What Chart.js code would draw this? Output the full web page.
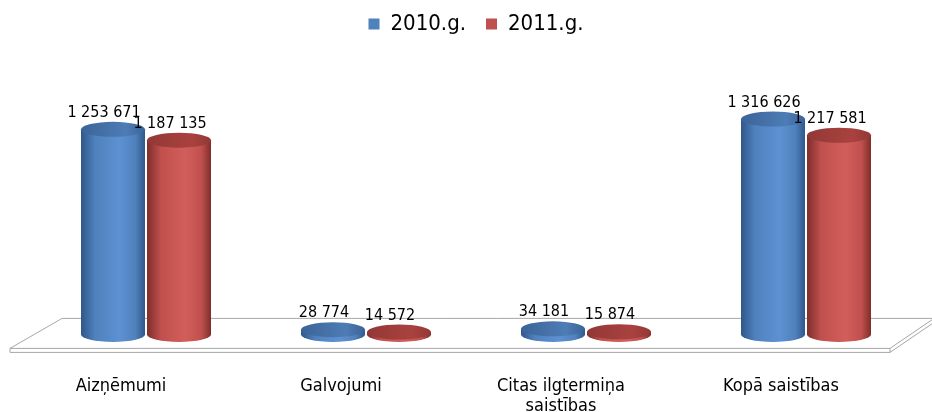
<!DOCTYPE html>
<html>
<head>
<meta charset="utf-8">
<script src="https://cdn.jsdelivr.net/npm/chart.js@4/dist/chart.umd.min.js"></script>
<style>
  html, body { margin: 0; padding: 0; background: #fff; }
  #wrap { width: 932px; height: 412px; }
</style>
</head>
<body>
<div id="wrap"><canvas id="c" width="932" height="412"></canvas></div>
<script>
  const categories = ["Aizņēmumi", "Galvojumi", ["Citas ilgtermiņa", "saistības"], "Kopā saistības"];
  const seriesNames = ["2010.g.", "2011.g."];
  const values2010 = [1253671, 28774, 34181, 1316626];
  const values2011 = [1187135, 14572, 15874, 1217581];

  const FONT = "'Liberation Sans Narrow', 'DejaVu Sans Condensed', 'Liberation Sans', sans-serif";

  const palette = [
    { base: "#4f81bd", dark: "#30578a", light: "#5e91d2", top: "#3b6498", topLight: "#4e7cb5" },
    { base: "#c0504d", dark: "#7e2e2c", light: "#d25e5b", top: "#923836", topLight: "#a9423f" }
  ];

  function fmt(v) {
    return String(v).replace(/\B(?=(\d{3})+(?!\d))/g, " ");
  }

  // floor drawn under the bars
  const floorPlugin = {
    id: "floor",
    beforeDatasetsDraw(chart) {
      const ctx = chart.ctx;
      const b = chart.chartArea.bottom;
      const W = chart.width;
      ctx.save();
      ctx.strokeStyle = "#a6a6a6";
      ctx.lineWidth = 1;
      ctx.fillStyle = "#ffffff";
      ctx.beginPath();
      ctx.moveTo(62, b - 16);
      ctx.lineTo(W + 2, b - 16);
      ctx.lineTo(W - 42, b + 14);
      ctx.lineTo(10, b + 14);
      ctx.closePath();
      ctx.fill();
      ctx.stroke();
      ctx.beginPath();
      ctx.moveTo(10, b + 14);
      ctx.lineTo(10, b + 18);
      ctx.lineTo(W - 42, b + 18);
      ctx.lineTo(W - 42, b + 14);
      ctx.stroke();
      ctx.beginPath();
      ctx.moveTo(W - 42, b + 18);
      ctx.lineTo(W + 2, b - 12);
      ctx.stroke();
      ctx.restore();
    }
  };

  // cylinders + value labels
  const cylPlugin = {
    id: "cyl",
    afterDatasetsDraw(chart) {
      const ctx = chart.ctx;
      const n = chart.data.labels.length;
      for (let i = 0; i < n; i++) {
        chart.data.datasets.forEach((ds, di) => {
          const el = chart.getDatasetMeta(di).data[i];
          const col = palette[di];
          const w = el.width;
          const x0 = el.x - w / 2, x1 = el.x + w / 2;
          const rx = w / 2, ry = 7.5;
          const top = el.y, base = el.base;
          ctx.save();
          const g = ctx.createLinearGradient(x0, 0, x1, 0);
          g.addColorStop(0, col.dark);
          g.addColorStop(0.22, col.base);
          g.addColorStop(0.6, col.light);
          g.addColorStop(0.85, col.base);
          g.addColorStop(1, col.dark);
          ctx.fillStyle = g;
          ctx.beginPath();
          ctx.moveTo(x0, top);
          ctx.lineTo(x0, base);
          ctx.ellipse(el.x, base, rx, ry, 0, Math.PI, 0, true);
          ctx.lineTo(x1, top);
          ctx.closePath();
          ctx.fill();
          const tg = ctx.createLinearGradient(x0, 0, x1, 0);
          tg.addColorStop(0, col.top);
          tg.addColorStop(0.7, col.topLight);
          tg.addColorStop(1, col.top);
          ctx.fillStyle = tg;
          ctx.beginPath();
          ctx.ellipse(el.x, top, rx, ry, 0, 0, Math.PI * 2);
          ctx.fill();
          ctx.fillStyle = "#000";
          ctx.font = "16px " + FONT;
          ctx.textAlign = "center";
          ctx.textBaseline = "bottom";
          ctx.fillText(fmt(ds.data[i]), el.x - 9, top - ry - 1);
          ctx.restore();
        });
      }
    }
  };

  new Chart(document.getElementById("c"), {
    type: "bar",
    data: {
      labels: categories,
      datasets: [
        { label: seriesNames[0], data: values2010, backgroundColor: "rgba(0,0,0,0)", borderWidth: 0,
          categoryPercentage: 0.6, barPercentage: 0.97 },
        { label: seriesNames[1], data: values2011, backgroundColor: "rgba(0,0,0,0)", borderWidth: 0,
          categoryPercentage: 0.6, barPercentage: 0.97 }
      ]
    },
    options: {
      responsive: false,
      animation: false,
      layout: { padding: { left: 36, right: 16, top: -7, bottom: -46 } },
      plugins: {
        legend: {
          position: "top",
          labels: {
            boxWidth: 11, boxHeight: 11, padding: 20, color: "#000",
            font: { family: FONT, size: 22 },
            generateLabels() {
              return seriesNames.map((s, i) => ({
                text: s, fillStyle: palette[i].base, strokeStyle: palette[i].base, lineWidth: 0, datasetIndex: i
              }));
            }
          }
        },
        tooltip: { enabled: false }
      },
      scales: {
        x: {
          grid: { display: false, drawTicks: false },
          border: { display: false },
          ticks: { color: "#000", font: { family: FONT, size: 18, lineHeight: 1.1 }, padding: 42, labelOffset: -25, maxRotation: 0 }
        },
        y: {
          min: 0, max: 1769000,
          display: false
        }
      }
    },
    plugins: [floorPlugin, cylPlugin]
  });
</script>
</body>
</html>
